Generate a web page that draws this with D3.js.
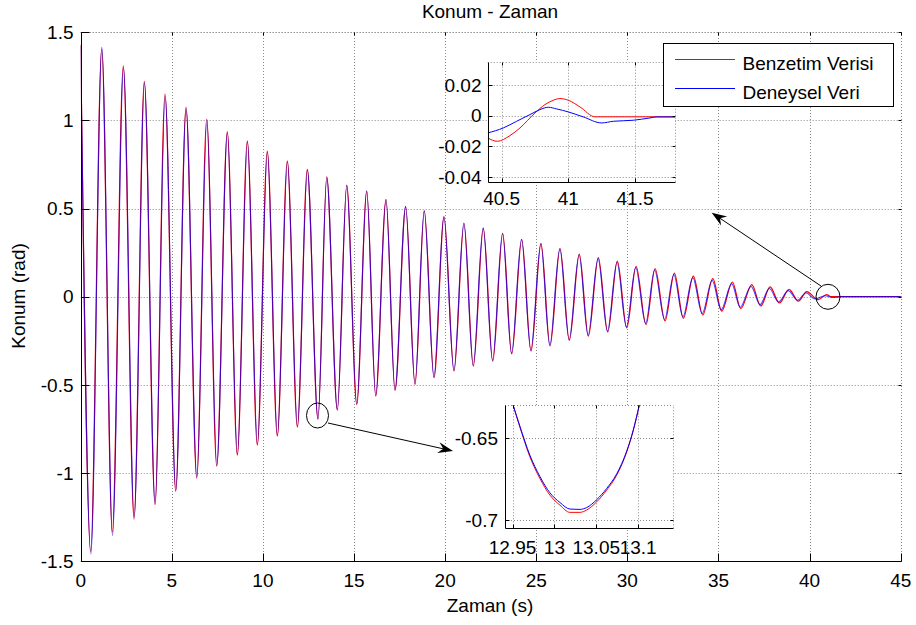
<!DOCTYPE html>
<html><head><meta charset="utf-8">
<script src="https://cdn.jsdelivr.net/npm/d3@7"></script>
<style>
html,body{margin:0;padding:0;background:#fff;}
svg text{font-family:"Liberation Sans",Arial,sans-serif;fill:#000;}
</style></head>
<body><svg id="c" width="916" height="625"></svg>
<script>
// ---------- data ----------
const titleText = "Konum - Zaman";
const xLabelText = "Zaman (s)";
const yLabelText = "Konum (rad)";
const seriesNames = ["Benzetim Verisi", "Deneysel Veri"];

const xTicks = [0, 5, 10, 15, 20, 25, 30, 35, 40, 45];
const yTicks = [-1.5, -1, -0.5, 0, 0.5, 1, 1.5];

// extrema of the simulated response (Benzetim Verisi)
const simTime = [0.000,0.549,1.153,1.734,2.338,2.925,3.491,4.078,4.627,5.214,5.779,6.367,6.916,7.464,8.046,8.595,9.144,9.693,10.241,10.790,11.339,11.890,12.437,13.021,13.502,14.083,14.600,15.148,15.697,16.191,16.756,17.250,17.837,18.348,18.858,19.391,19.940,20.488,21.037,21.548,22.097,22.613,23.161,23.655,24.204,24.715,25.263,25.757,26.306,26.817,27.365,27.859,28.408,28.924,29.451,29.967,30.478,31.026,31.520,32.069,32.580,33.074,33.622,34.138,34.687,35.181,35.763,36.224,36.828,37.322,37.832,38.343,38.875,39.385,39.846,40.467,40.937,41.200,45.000];
const simValue = [1.430,-1.445,1.405,-1.335,1.310,-1.262,1.222,-1.180,1.150,-1.105,1.075,-1.030,1.008,-0.962,0.936,-0.900,0.884,-0.843,0.826,-0.792,0.771,-0.741,0.722,-0.695,0.680,-0.644,0.633,-0.612,0.597,-0.565,0.551,-0.532,0.509,-0.498,0.487,-0.460,0.453,-0.422,0.415,-0.394,0.387,-0.366,0.358,-0.325,0.324,-0.309,0.301,-0.280,0.273,-0.248,0.241,-0.224,0.222,-0.201,0.202,-0.177,0.172,-0.158,0.159,-0.138,0.134,-0.123,0.117,-0.104,0.102,-0.082,0.083,-0.068,0.068,-0.053,0.055,-0.036,0.042,-0.026,0.029,-0.0168,0.0111,0.000,0.000];

// extrema of the measured response (Deneysel Veri)
const expTime = [0.000,0.560,1.160,1.745,2.350,2.935,3.500,4.085,4.635,5.220,5.785,6.375,6.925,7.470,8.050,8.600,9.150,9.700,10.245,10.795,11.345,11.895,12.440,13.021,13.505,14.085,14.600,15.150,15.695,16.190,16.750,17.245,17.830,18.340,18.850,19.380,19.930,20.478,21.025,21.535,22.085,22.600,23.148,23.640,24.190,24.700,25.248,25.740,26.290,26.800,27.348,27.840,28.390,28.905,29.430,29.945,30.455,31.000,31.495,32.040,32.550,33.045,33.590,34.105,34.650,35.145,35.725,36.185,36.785,37.280,37.790,38.300,38.830,39.340,39.800,40.300,40.850,41.250,41.487,41.700,45.000];
const expValue = [1.425,-1.460,1.415,-1.355,1.298,-1.250,1.212,-1.172,1.140,-1.098,1.068,-1.022,1.000,-0.956,0.930,-0.895,0.878,-0.838,0.820,-0.788,0.766,-0.737,0.718,-0.6933,0.676,-0.640,0.630,-0.608,0.600,-0.560,0.553,-0.528,0.512,-0.494,0.488,-0.456,0.455,-0.418,0.418,-0.390,0.390,-0.362,0.360,-0.322,0.326,-0.305,0.302,-0.276,0.272,-0.244,0.238,-0.220,0.216,-0.196,0.195,-0.172,0.165,-0.152,0.151,-0.130,0.126,-0.115,0.108,-0.096,0.093,-0.075,0.074,-0.060,0.058,-0.045,0.046,-0.030,0.034,-0.020,0.022,-0.0125,0.0055,-0.0048,-0.0031,0.000,0.000];

// zoom inset near t = 41 s
const inset1XTicks = [40.5, 41, 41.5];
const inset1YTicks = [-0.04, -0.02, 0, 0.02];
const inset1SimTime = [40.395,40.467,40.562,40.637,40.750,40.825,40.887,40.937,41.000,41.087,41.200,41.800];
const inset1SimValue = [-0.01465,-0.01683,-0.01311,-0.00809,0.00175,0.00721,0.01005,0.01115,0.01005,0.00568,-0.0008,-0.0008];
const inset1ExpTime = [40.395,40.512,40.612,40.712,40.787,40.850,40.912,41.000,41.112,41.250,41.337,41.487,41.612,41.662,41.800];
const inset1ExpValue = [-0.01137,-0.00809,-0.00372,0.00066,0.00393,0.00546,0.00437,0.0024,-0.00087,-0.00481,-0.00372,-0.00306,-0.00153,-0.00087,-0.00087];

// zoom inset near t = 13 s
const inset2XTicks = [12.95, 13, 13.05, 13.1];
const inset2YTicks = [-0.7, -0.65];
const inset2Time = [12.9507,12.9587,12.9707,12.9827,12.9946,13.0066,13.0185,13.0305,13.0385,13.0505,13.0624,13.0744,13.0864,13.0943,13.1014];
const inset2SimValue = [-0.6301,-0.6433,-0.6615,-0.6747,-0.6848,-0.6909,-0.6953,-0.6953,-0.6939,-0.6889,-0.6818,-0.6727,-0.6585,-0.6453,-0.6301];
const inset2ExpValue = [-0.6301,-0.6428,-0.6605,-0.6735,-0.6834,-0.6893,-0.6933,-0.6935,-0.6924,-0.6876,-0.6808,-0.6719,-0.6580,-0.6450,-0.6301];

// ---------- drawing ----------
const RED = "#ff0000", BLUE = "#0000ff", GRID = "#8a8a8a";
const svg = d3.select("#c");
const FS = 19;

function zip(t, v){ return t.map((d,i)=>[d, v[i]]); }

function drawAxes(g, opt){
  const {x, y, xt, yt} = opt;
  const [x0, x1] = x.range(), [y0, y1] = y.range();
  if (opt.bg) g.append("rect").attr("x", x0).attr("y", y1).attr("width", x1-x0).attr("height", y0-y1).attr("fill", "#fff");
  const grid = g.append("g").attr("stroke", GRID).attr("stroke-width", 1).attr("stroke-dasharray", "1,2").attr("fill","none");
  xt.forEach(v => { const px = Math.round(x(v))+0.5; grid.append("line").attr("x1",px).attr("x2",px).attr("y1",y0).attr("y2",y1); });
  yt.forEach(v => { const py = Math.round(y(v))+0.5; grid.append("line").attr("x1",x0).attr("x2",x1).attr("y1",py).attr("y2",py); });
  grid.append("line").attr("x1",x0).attr("x2",x1).attr("y1",Math.round(y1)+0.5).attr("y2",Math.round(y1)+0.5);
  grid.append("line").attr("x1",Math.round(x1)+0.5).attr("x2",Math.round(x1)+0.5).attr("y1",y0).attr("y2",y1);
}

function drawFrame(g, opt){
  const {x, y, xt, yt, tickLen, tickLen2, xLabY, yLabX} = opt;
  const [x0, x1] = x.range(), [y0, y1] = y.range();
  const f = g.append("g").attr("stroke", "#000").attr("stroke-width", 1).attr("fill","none");
  const L = Math.round(x0)+0.5, B = Math.round(y0)+0.5, R = Math.round(x1)+0.5, T = Math.round(y1)+0.5;
  f.append("line").attr("x1",L).attr("x2",L).attr("y1",B).attr("y2",T);
  f.append("line").attr("x1",L).attr("x2",R).attr("y1",B).attr("y2",B);
  xt.forEach(v => { const px = Math.round(x(v))+0.5;
    f.append("line").attr("x1",px).attr("x2",px).attr("y1",B).attr("y2",B-tickLen);
    f.append("line").attr("x1",px).attr("x2",px).attr("y1",T).attr("y2",T+tickLen2); });
  yt.forEach(v => { const py = Math.round(y(v))+0.5;
    f.append("line").attr("x1",L).attr("x2",L+tickLen).attr("y1",py).attr("y2",py);
    f.append("line").attr("x1",R).attr("x2",R-tickLen2).attr("y1",py).attr("y2",py); });
  const t = g.append("g").attr("font-size", FS);
  xt.forEach(v => t.append("text").attr("x", x(v)).attr("y", xLabY).attr("text-anchor","middle").text(String(v)));
  yt.forEach(v => t.append("text").attr("x", yLabX).attr("y", y(v)).attr("dy","0.36em").attr("text-anchor","end").text(String(v)));
}

function drawSeries(g, x, y, data, color, clipId, width, opacity){
  const line = d3.line().x(d=>x(d[0])).y(d=>y(d[1])).curve(d3.curveMonotoneX);
  g.append("path").attr("d", line(data)).attr("fill","none").attr("stroke",color)
    .attr("stroke-width",width || 1).attr("stroke-linejoin","round")
    .attr("stroke-opacity", opacity || 1)
    .attr("clip-path", clipId ? `url(#${clipId})` : null);
}

function addClip(id, x, y){
  const [x0,x1] = x.range(), [y0,y1] = y.range();
  svg.append("clipPath").attr("id", id).append("rect").attr("x",x0).attr("y",y1-1).attr("width",x1-x0+1).attr("height",y0-y1+1);
}

// main axes
const x = d3.scaleLinear().domain([0,45]).range([80.7, 900.7]);
const y = d3.scaleLinear().domain([-1.5,1.5]).range([561, 32.3]);
const mainOpt = {x, y, xt:xTicks, yt:yTicks, tickLen:8, tickLen2:3, xLabY:587, yLabX:73.5};
const main = svg.append("g");
drawAxes(main, mainOpt);
addClip("clipMain", x, y);
drawSeries(main, x, y, zip(simTime, simValue), RED, "clipMain", 1.2, 1);
drawSeries(main, x, y, zip(expTime, expValue), BLUE, "clipMain", 1.1, 0.72);
drawFrame(main, mainOpt);

svg.append("text").attr("x", 490).attr("y", 17.5).attr("text-anchor","middle").attr("font-size", FS).text(titleText);
svg.append("text").attr("x", 490).attr("y", 612).attr("text-anchor","middle").attr("font-size", FS).text(xLabelText);
svg.append("text").attr("transform","translate(25,296) rotate(-90)").attr("text-anchor","middle").attr("font-size", FS).text(yLabelText);

// annotation circles and arrows
function arrow(x1,y1,x2,y2){
  const g = svg.append("g");
  const ang = Math.atan2(y2-y1, x2-x1), len = 14, w = 5.5, notch = 4;
  const ux = Math.cos(ang), uy = Math.sin(ang), nx = -uy, ny = ux;
  const bx = x2 - ux*len, by = y2 - uy*len;
  g.append("line").attr("x1",x1).attr("y1",y1).attr("x2",x2-ux*6).attr("y2",y2-uy*6).attr("stroke","#000").attr("stroke-width",1);
  const p = [[x2,y2],[bx+nx*w - ux*1,by+ny*w - uy*1],[x2-ux*(len-notch),y2-uy*(len-notch)],[bx-nx*w - ux*1,by-ny*w - uy*1]];
  g.append("path").attr("d","M"+p.map(q=>q.join(",")).join("L")+"Z").attr("fill","#000");
}
svg.append("ellipse").attr("cx",317.5).attr("cy",415.5).attr("rx",11).attr("ry",12.5).attr("fill","none").attr("stroke","#000");
svg.append("ellipse").attr("cx",828).attr("cy",296.8).attr("rx",12).attr("ry",12.5).attr("fill","none").attr("stroke","#000");
arrow(328, 423, 453, 451);
arrow(821, 286, 711.7, 212.7);

// inset 1 (t ~ 41 s)
const x1s = d3.scaleLinear().domain([40.395, 41.8]).range([487.7, 675]);
const y1s = d3.scaleLinear().domain([-0.0433, 0.0353]).range([181.7, 61.7]);
const in1Opt = {x:x1s, y:y1s, xt:inset1XTicks, yt:inset1YTicks, tickLen:4, tickLen2:3, xLabY:205, yLabX:481.5, bg:true};
const in1 = svg.append("g");
drawAxes(in1, in1Opt);
addClip("clipIn1", x1s, y1s);
drawSeries(in1, x1s, y1s, zip(inset1SimTime, inset1SimValue), RED, "clipIn1");
drawSeries(in1, x1s, y1s, zip(inset1ExpTime, inset1ExpValue), BLUE, "clipIn1");
drawFrame(in1, in1Opt);

// inset 2 (t ~ 13 s)
const x2s = d3.scaleLinear().domain([12.941, 13.142]).range([505, 673.3]);
const y2s = d3.scaleLinear().domain([-0.705, -0.630]).range([528.3, 405]);
const in2Opt = {x:x2s, y:y2s, xt:inset2XTicks, yt:inset2YTicks, tickLen:4, tickLen2:3, xLabY:554, yLabX:498, bg:true};
const in2 = svg.append("g");
drawAxes(in2, in2Opt);
addClip("clipIn2", x2s, y2s);
drawSeries(in2, x2s, y2s, zip(inset2Time, inset2SimValue), RED, "clipIn2");
drawSeries(in2, x2s, y2s, zip(inset2Time, inset2ExpValue), BLUE, "clipIn2");
drawFrame(in2, in2Opt);

// legend
const leg = svg.append("g");
leg.append("rect").attr("x",663.5).attr("y",43.5).attr("width",230).attr("height",63).attr("fill","#fff").attr("stroke","#000");
[RED, BLUE].forEach((c,i) => {
  const yy = 59.5 + i*29;
  leg.append("line").attr("x1",675).attr("x2",735).attr("y1",yy).attr("y2",yy).attr("stroke",c);
  leg.append("text").attr("x",742.5).attr("y",yy+10).attr("font-size",FS).text(seriesNames[i]);
});
</script></body></html>
